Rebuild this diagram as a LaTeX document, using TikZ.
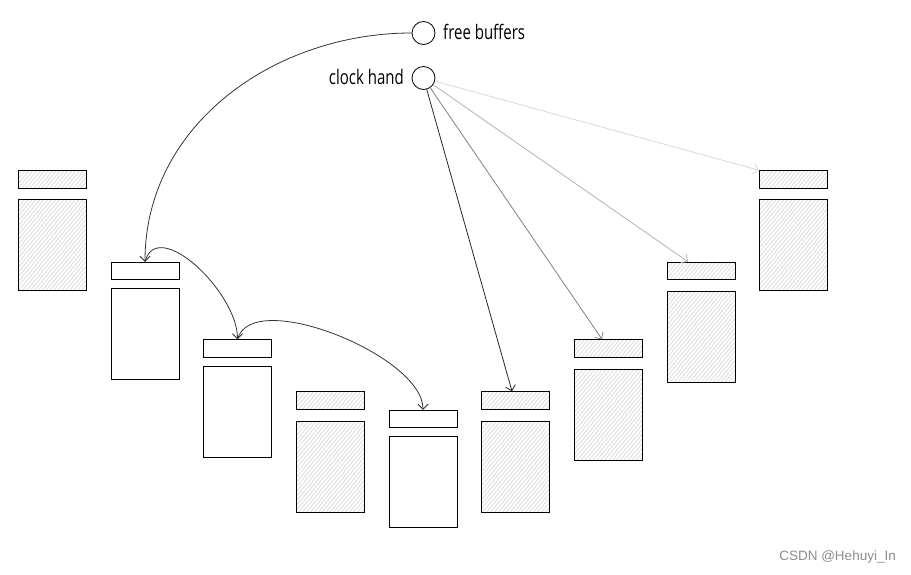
\documentclass[tikz,border=0pt]{standalone}
\usepackage{fontspec}
\newfontfamily\labelfont[FakeStretch=0.75]{Open Sans}
\newfontfamily\markfont{Liberation Sans}
\usetikzlibrary{patterns.meta,arrows.meta,calc}
\begin{document}
\begin{tikzpicture}[x=1pt,y=-1pt,
    hdr/.style={draw,line width=1pt,minimum width=68pt,minimum height=17.5pt,inner sep=0pt},
    bdy/.style={draw,line width=1pt,minimum width=68pt,minimum height=91pt,inner sep=0pt},
    used/.style={pattern={Lines[angle=50,distance=3pt,line width=0.9pt]},pattern color=black!13},
    ptr/.style={draw,circle,line width=0.8pt,minimum size=23pt,inner sep=0pt},
    link/.style={-{Straight Barb[length=5pt,width=10pt]},line width=0.8pt,black!80}]
    \useasboundingbox (0,0) rectangle (911,574);
    % pointers
    \node[ptr] (free) at (423.5,33) {};
    \node[ptr] (clock) at (423.5,78) {};
    \node[anchor=west,inner sep=0pt,font=\labelfont\fontsize{20}{22}\selectfont] (freetxt) at (443,32) {free buffers};
    \node[anchor=east,inner sep=0pt,font=\labelfont\fontsize{20}{22}\selectfont] (clocktxt) at (404,77) {clock hand};
    % buffers
    \node[hdr,used] (h1) at (52,179.5) {};
    \node[bdy,used] (b1) at (52,245) {};
    \node[hdr] (h2) at (145,271) {};
    \node[bdy] (b2) at (145,333.5) {};
    \node[hdr] (h3) at (237.5,348.5) {};
    \node[bdy] (b3) at (237.5,411.5) {};
    \node[hdr,used] (h4) at (330.5,400.5) {};
    \node[bdy,used] (b4) at (330.5,466.5) {};
    \node[hdr] (h5) at (423,419) {};
    \node[bdy] (b5) at (423,481.5) {};
    \node[hdr,used] (h6) at (515.5,400.5) {};
    \node[bdy,used] (b6) at (515.5,466.5) {};
    \node[hdr,used] (h7) at (608.5,348.5) {};
    \node[bdy,used] (b7) at (608.5,414.5) {};
    \node[hdr,used] (h8) at (701.5,271) {};
    \node[bdy,used] (b8) at (701.5,336.5) {};
    \node[hdr,used] (h9) at (793.5,179.5) {};
    \node[bdy,used] (b9) at (793.5,245) {};
    % free list
    \draw[link] (free.west) to[out=180,in=90] (h2.north);
    \draw[link] (h2.north) to[out=75,in=90] (h3.north);
    \draw[link] (h3.north) to[out=75,in=90,looseness=0.7] (h5.north);
    % clock sweep
    \draw[link,black!85] (clock) -- ([xshift=-3.5pt]h6.north);
    \draw[link,black!50] (clock) -- ([xshift=-6.5pt]h7.north);
    \draw[link,black!30] (clock) -- ([xshift=-13.5pt]h8.north);
    \draw[link,black!15] (clock) -- (h9.north west);
    \node[anchor=east,inner sep=0pt,text=black!45,font=\markfont\fontsize{13.5}{15}\selectfont] (mark) at (896,557) {CSDN @Hehuyi\_In};
\end{tikzpicture}
\end{document}
